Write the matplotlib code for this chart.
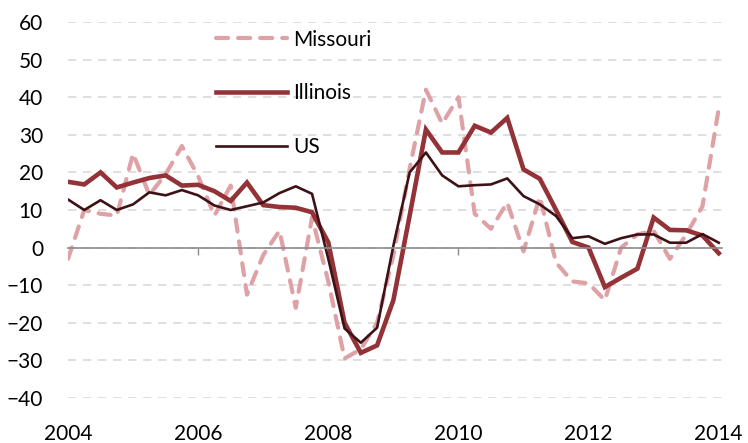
import numpy as np
import matplotlib
matplotlib.use('Agg')
from matplotlib import pyplot as plt

plt.rcParams['font.family'] = ['Lato', 'DejaVu Sans']

# quarterly growth, 2004Q1 .. 2014Q1
missouri = [-3, 10, 9, 8.5, 25, 14, 19.5, 27, 19, 8.5,
            16.5, -12.5, -2, 4.5, -16, 8, -9, -29.5, -27, -20,
            -2, 21, 42, 33, 40, 9, 5, 12, -1, 13.5,
            -4, -9, -9.5, -14, 0, 3.5, 4.5, -3, 3.5, 11, 37]
illinois = [17.5, 16.8, 20, 16, 17.3, 18.5, 19.2, 16.5, 16.7, 15,
            12.4, 17.3, 11.3, 10.8, 10.6, 9.4, 1.4, -20, -28, -26,
            -14, 8.5, 31.4, 25.3, 25.3, 32.4, 30.6, 34.5, 20.8, 18.3,
            10, 1.5, 0, -10.5, -8, -5.6, 8, 4.7, 4.6, 3.2, -1.5]
us = [12.8, 10, 12.6, 10, 11.5, 14.7, 13.9, 15.3, 13.9, 11.2,
      10, 11, 12, 14.5, 16.3, 14.3, -3, -21.5, -25.3, -21.3,
      0.5, 20, 25.3, 19.2, 16.3, 16.6, 16.8, 18.4, 13.7, 11.5,
      8.4, 2.5, 3, 1, 2.5, 3.5, 3.5, 1.3, 1.3, 3.6, 1.3]
year_labels = ['2004', '2006', '2008', '2010', '2012', '2014']
yticks = [60, 50, 40, 30, 20, 10, 0, -10, -20, -30, -40]

x = 2004 + np.arange(len(us)) / 4.0

fig = plt.figure(figsize=(7.48, 4.43), dpi=100)
ax = fig.add_axes([68 / 748, 45 / 443, 654 / 748, 376 / 443])

ax.plot(x, missouri, color='#dea2a6', lw=3, dashes=(2.9, 2.4),
        dash_capstyle='round', label='Missouri')
ax.plot(x, illinois, color='#943337', lw=3.3, solid_joinstyle='miter',
        label='Illinois')
ax.plot(x, us, color='#3d1216', lw=1.9, label='US')

ax.set_xlim(2004, 2014.05)
ax.set_ylim(-40, 60)

for s in ['top', 'right', 'left']:
    ax.spines[s].set_visible(False)
ax.spines['bottom'].set_position(('data', 0))
ax.spines['bottom'].set_color('#8c8c8c')
ax.spines['bottom'].set_linewidth(1.2)
ax.set_xticks([2006, 2008, 2010, 2012])
ax.tick_params(axis='x', direction='out', length=5, width=1, color='#8c8c8c',
               labelbottom=False)

ax.set_yticks(yticks)
ax.tick_params(axis='y', length=0, pad=18, labelsize=15)
ax.yaxis.grid(True, color='#d9d9d9', lw=1.2, ls=(0, (5, 4)))
ax.set_axisbelow(True)

sec = ax.secondary_xaxis(0)
sec.set_xticks([int(y) for y in year_labels])
sec.set_xticklabels(year_labels)
sec.spines['bottom'].set_visible(False)
sec.tick_params(length=0, pad=19, labelsize=15)

ax.legend(loc='upper left', bbox_to_anchor=(0.226, 0.98), frameon=False,
          fontsize=15, handlelength=3.4, handletextpad=0.3,
          labelspacing=1.62, borderpad=0, borderaxespad=0)

fig.savefig('out.png', dpi=100)
